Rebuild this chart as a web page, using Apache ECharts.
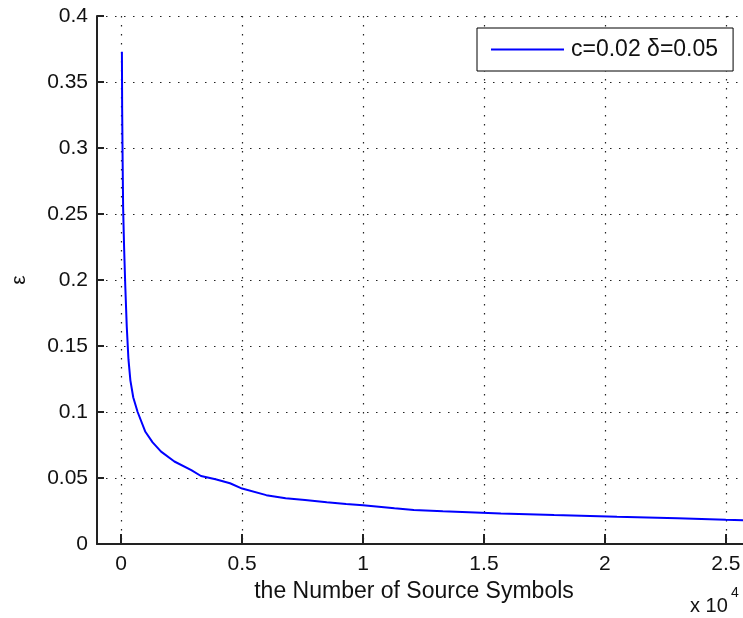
<!DOCTYPE html>
<html>
<head>
<meta charset="utf-8">
<script src="https://cdn.jsdelivr.net/npm/echarts@6/dist/echarts.min.js"></script>
<style>
html,body{margin:0;padding:0;background:#fff;}
#chart{width:743px;height:618px;}
</style>
</head>
<body>
<div id="chart"></div>
<script>
// number of source symbols (k)
const symbolCounts = [30, 40, 60, 80, 120, 170, 230, 300, 380, 500, 680, 1000, 1300, 1650, 2200, 2900, 3300, 3900, 4500, 5000, 6000, 6800, 7600, 8500, 9300, 10000, 11300, 12100, 13300, 15700, 17900, 20500, 23000, 25000, 26000];
// epsilon values
const epsilonValues = [0.373, 0.33, 0.29, 0.255, 0.225, 0.195, 0.165, 0.14, 0.124, 0.111, 0.1, 0.085, 0.077, 0.070, 0.0625, 0.056, 0.0515, 0.049, 0.046, 0.042, 0.037, 0.0346, 0.0333, 0.0316, 0.0303, 0.0294, 0.027, 0.0258, 0.0248, 0.0232, 0.022, 0.0207, 0.0195, 0.0183, 0.0178];
const xTickValues = [0, 5000, 10000, 15000, 20000, 25000];
const seriesName = 'c=0.02 δ=0.05';
const xAxisTitle = 'the Number of Source Symbols';
const yAxisTitle = 'ε';

const font = "'Liberation Sans', Arial, sans-serif";
const dotted = { color: '#222', width: 1.2, type: [1.5, 7.5] };

const chart = echarts.init(document.getElementById('chart'), null, { renderer: 'canvas' });
chart.setOption({
  animation: false,
  backgroundColor: '#fff',
  grid: { left: 97, top: 16, right: -7, bottom: 74, containLabel: false, outerBoundsMode: 'none' },
  legend: {
    left: 477, top: 28,
    padding: [10, 15, 10, 14],
    backgroundColor: '#fff',
    borderColor: '#000', borderWidth: 1,
    itemWidth: 73, itemHeight: 2, itemGap: 0,
    textStyle: { fontFamily: font, fontSize: 23, color: '#111', lineHeight: 22, padding: [0, 0, 0, 2] },
    data: [{ name: seriesName, icon: 'rect' }]
  },
  xAxis: {
    type: 'value',
    min: -1000, max: 26000,
    name: xAxisTitle,
    nameLocation: 'middle',
    nameGap: 36,
    nameTextStyle: { fontFamily: font, fontSize: 23, color: '#111', padding: [0, 19, 0, 0] },
    axisLine: { show: true, onZero: false, lineStyle: { color: '#222', width: 2 } },
    axisTick: { show: true, inside: true, length: 10, lineStyle: { color: '#222', width: 2 }, customValues: xTickValues },
    axisLabel: { show: true, margin: 10, fontFamily: font, fontSize: 21, color: '#111', customValues: xTickValues,
      formatter: v => String(+(v / 10000).toFixed(2)) },
    splitLine: { show: true, lineStyle: dotted }
  },
  yAxis: {
    type: 'value',
    min: 0, max: 0.4, interval: 0.05,
    name: yAxisTitle,
    nameLocation: 'middle',
    nameRotate: 90,
    nameGap: 67,
    nameTextStyle: { fontFamily: font, fontSize: 21, color: '#111' },
    axisLine: { show: true, onZero: false, lineStyle: { color: '#222', width: 2 } },
    axisTick: { show: true, inside: true, length: 7, lineStyle: { color: '#222', width: 2 } },
    axisLabel: { show: true, margin: 9, fontFamily: font, fontSize: 21, color: '#111',
      formatter: v => String(+v.toFixed(2)) },
    splitLine: { show: true, lineStyle: dotted }
  },
  graphic: [
    { type: 'text', left: 690, top: 596, style: { text: 'x 10', fontFamily: font, fontSize: 20, fill: '#111' } },
    { type: 'text', left: 731, top: 586, style: { text: '4', fontFamily: font, fontSize: 14, fill: '#111' } }
  ],
  series: [{
    name: seriesName,
    type: 'line',
    symbol: 'none',
    clip: true,
    lineStyle: { color: '#0000ff', width: 2 },
    itemStyle: { color: '#0000ff' },
    data: symbolCounts.map((k, i) => [k, epsilonValues[i]])
  }]
});
</script>
</body>
</html>
